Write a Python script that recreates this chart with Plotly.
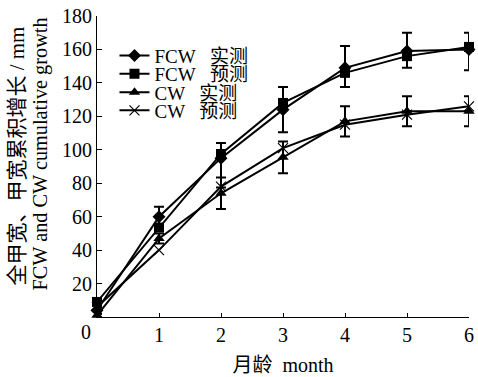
import plotly.graph_objects as go

# Cumulative growth of full carapace width (FCW) and carapace width (CW)
months = [0, 1, 2, 3, 4, 5, 6]

fcw_obs = [4, 60, 95, 124, 149, 159, 160]
fcw_obs_err_up = [2, 6, 9, 13.5, 13, 11, 10]
fcw_obs_err_down = [2, 6, 17.5, 13.5, 11.5, 10, 12.5]
fcw_pred = [9, 53.5, 97.5, 128, 146, 156, 161.5]

cw_obs = [1, 47, 74, 95.5, 117, 123, 123]
cw_obs_err = [1, 3, 9.4, 9.5, 9, 9, 9]
cw_pred = [6, 40, 78, 101, 115, 121, 126]

NB = "\u00a0"
legend_names = ["FCW" + NB * 3 + "实测", "FCW" + NB * 3 + "预测",
                "CW" + NB * 3 + "实测", "CW" + NB * 3 + "预测"]
y_ticks = [20, 40, 60, 80, 100, 120, 140, 160, 180]
x_ticks = [1, 2, 3, 4, 5, 6]
y_title_cn = "全甲宽、甲宽累积增长 / mm"
y_title_en = "FCW and CW cumulative growth"
x_title = "月龄" + NB * 2 + "month"

FONT = "Liberation Serif, Times New Roman, Noto Sans CJK SC, serif"
LINE = dict(color="black", width=2)

fig = go.Figure()
fig.add_trace(go.Scatter(
    x=months, y=fcw_obs, name=legend_names[0], mode="lines+markers",
    legend="legend",
    line=LINE, marker=dict(symbol="diamond", size=10, color="black"),
    error_y=dict(type="data", symmetric=False, array=fcw_obs_err_up,
                 arrayminus=fcw_obs_err_down, color="black", thickness=2, width=5),
))
fig.add_trace(go.Scatter(
    x=months, y=fcw_pred, name=legend_names[1], mode="lines+markers",
    legend="legend2",
    line=LINE, marker=dict(symbol="square", size=10, color="black"),
))
fig.add_trace(go.Scatter(
    x=months, y=cw_obs, name=legend_names[2], mode="lines+markers",
    legend="legend3",
    line=LINE, marker=dict(symbol="triangle-up", size=10, color="black"),
    error_y=dict(type="data", array=cw_obs_err, color="black", thickness=2, width=5),
))
fig.add_trace(go.Scatter(
    x=months, y=cw_pred, name=legend_names[3], mode="lines+markers",
    legend="legend4",
    line=LINE, marker=dict(symbol="x-thin", size=10, color="black",
                           line=dict(color="black", width=1.2)),
))
fig.update_traces(cliponaxis=False, showlegend=True)

# one legend per series so rows can sit tightly stacked
legend_rows = [0.868, 0.808, 0.746, 0.686]
legend_style = dict(x=0.047, xanchor="left", yanchor="middle",
                    bgcolor="rgba(0,0,0,0)", font=dict(size=19), itemwidth=30)

fig.update_layout(
    width=478, height=377,
    margin=dict(l=97, r=4, t=16, b=60),
    paper_bgcolor="white", plot_bgcolor="white",
    font=dict(family=FONT, size=20, color="black"),
    showlegend=True,
    legend=dict(y=legend_rows[0], **legend_style),
    legend2=dict(y=legend_rows[1], **legend_style),
    legend3=dict(y=legend_rows[2], **legend_style),
    legend4=dict(y=legend_rows[3], **legend_style),
    xaxis=dict(range=[0, 6], tickvals=x_ticks, ticks="inside", ticklen=4,
               tickwidth=1, tickcolor="black", showline=True, linecolor="black",
               linewidth=1, showgrid=False, zeroline=False,
               ticklabeloverflow="allow",
               title=dict(text=x_title, standoff=12, font=dict(size=20))),
    yaxis=dict(range=[0, 180], tickvals=y_ticks, ticks="inside", ticklen=5,
               tickwidth=1, tickcolor="black", showline=True, linecolor="black",
               linewidth=1, showgrid=False, zeroline=False,
               ticklabeloverflow="allow"),
)

# shared origin label, set just left of the corner
fig.add_annotation(x=0, y=0, xref="x", yref="y", text="0", showarrow=False,
                   xanchor="right", yanchor="top", xshift=-4, yshift=-2,
                   font=dict(size=20))

# y-axis title as two rotated lines left of the tick labels
fig.add_annotation(x=0, y=0.533, xref="paper", yref="paper",
                   text=y_title_cn, textangle=-90, showarrow=False,
                   xanchor="center", yanchor="middle", xshift=-80,
                   font=dict(size=21))
fig.add_annotation(x=0, y=0.54, xref="paper", yref="paper",
                   text=y_title_en, textangle=-90, showarrow=False,
                   xanchor="center", yanchor="middle", xshift=-57,
                   font=dict(size=20.3))

fig.write_html("out.html")
